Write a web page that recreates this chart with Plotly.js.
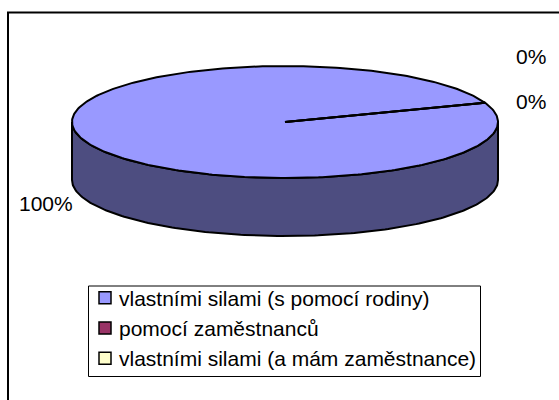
<!DOCTYPE html>
<html><head><meta charset="utf-8">
<script src="https://cdn.plot.ly/plotly-3.0.1.min.js"></script>
<style>html,body{margin:0;padding:0;background:#fff}#c{width:559px;height:400px}</style>
</head><body><div id="c"></div>
<script>
const categories = ['vlastními silami (s pomocí rodiny)', 'pomocí zaměstnanců', 'vlastními silami (a mám zaměstnance)'];
const values = [100, 0, 0];
const colors = ['#9999FF', '#993366', '#FFFFCC'];
const sideColor = '#4D4D80';
const pctLabels = ['100%', '0%', '0%'];

const cx = 285, cy = 122, rx = 213, ry = 56, depth = 58;
const seam = Math.atan2((103 - cy) / ry, (483 - cx) / rx);
const total = values.reduce((a, b) => a + b, 0);
const ell = t => [cx + rx * Math.cos(t), cy + ry * Math.sin(t)];
const F = 'Liberation Sans, Arial, sans-serif';

function range(a, b, n) { const o = []; for (let i = 0; i <= n; i++) o.push(a + (b - a) * i / n); return o; }

const traces = [];
const front = range(0, Math.PI, 180).map(ell);
const wall = front.concat(front.slice().reverse().map(p => [p[0], p[1] + depth]));
wall.push(front[0]);
traces.push({ x: wall.map(p => p[0]), y: wall.map(p => p[1]),
  mode: 'lines', fill: 'toself', fillcolor: sideColor, line: { color: '#000', width: 2 }, showlegend: false, hoverinfo: 'skip' });
let acc = 0;
values.forEach((v, i) => {
  const a0 = seam + 2 * Math.PI * acc / total, a1 = seam + 2 * Math.PI * (acc + v) / total;
  acc += v;
  const pts = [[cx, cy]].concat(range(a0, a1, 360).map(ell)).concat([[cx, cy]]);
  traces.push({ x: pts.map(p => p[0]), y: pts.map(p => p[1]), mode: 'lines', fill: v > 0 ? 'toself' : 'none',
    fillcolor: colors[i], line: { color: '#000', width: 2 }, showlegend: false, hoverinfo: 'skip' });
});
categories.forEach((c, i) => traces.push({ x: [null], y: [null], name: c, mode: 'markers',
  marker: { symbol: 'square', size: 12, color: colors[i], line: { color: '#000', width: 1.5 } } }));

const annPos = [[46, 203], [531, 56], [531, 101]];
const annotations = pctLabels.map((t, i) => ({ x: annPos[i][0], y: annPos[i][1], text: t, showarrow: false,
  xref: 'x', yref: 'y', font: { family: F, size: 21, color: '#000' } }));

const layout = {
  width: 559, height: 400, margin: { l: 0, r: 0, t: 0, b: 0 }, paper_bgcolor: '#fff', plot_bgcolor: '#fff',
  xaxis: { range: [0, 559], visible: false, fixedrange: true },
  yaxis: { range: [400, 0], visible: false, fixedrange: true },
  annotations,
  shapes: [
    { type: 'rect', xref: 'x', yref: 'y', x0: 8, y0: 12.5, x1: 600, y1: 450, line: { color: '#000', width: 2 }, fillcolor: 'rgba(0,0,0,0)', layer: 'below' },
    { type: 'rect', xref: 'x', yref: 'y', x0: 88.5, y0: 286, x1: 480.5, y1: 376.5, line: { color: '#000', width: 1 }, fillcolor: 'rgba(0,0,0,0)', layer: 'below' }
  ],
  legend: { x: 79 / 559, y: 1 - 277.5 / 400, xanchor: 'left', yanchor: 'top', bgcolor: 'rgba(0,0,0,0)', borderwidth: 0,
    font: { family: F, size: 21, color: '#000' }, traceorder: 'normal' },
  showlegend: true
};
Plotly.newPlot('c', traces, layout, { staticPlot: true, displayModeBar: false }).then(() => {
  document.querySelectorAll('.legendpoints').forEach(g => g.setAttribute('transform', 'translate(6,0)'));
});
</script></body></html>
